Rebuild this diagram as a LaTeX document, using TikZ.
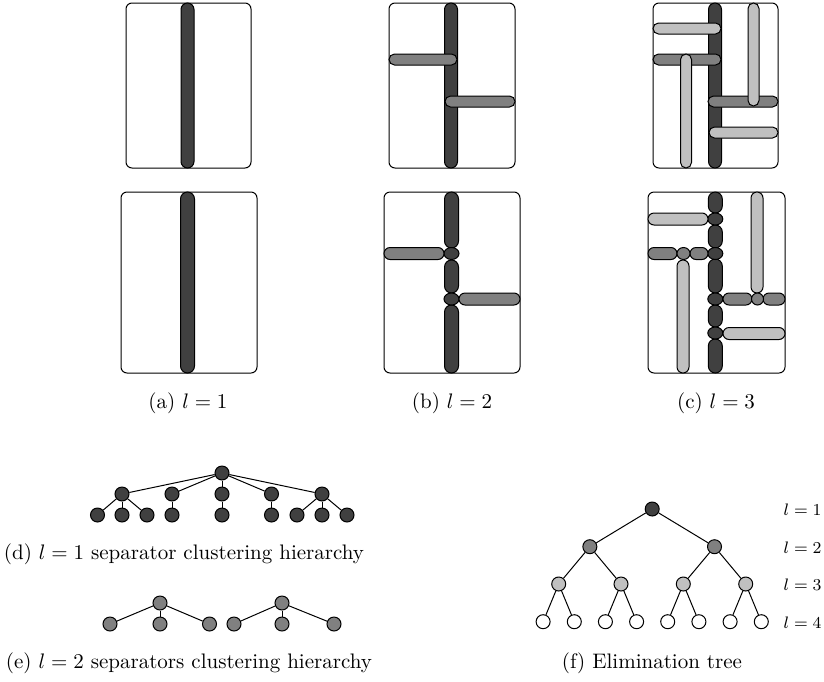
\documentclass[tikz,border=0pt]{standalone}
\definecolor{sepdark}{HTML}{404040}
\definecolor{sepmed}{HTML}{808080}
\definecolor{seplight}{HTML}{C0C0C0}
\newcommand{\VB}[5]{% color, cx, y1, y2, halfwidth(px)
  \pgfmathsetmacro\myrad{#5/2}%
  \draw[sep,fill=#1,rounded corners=\myrad pt] ({#2-#5},#3) rectangle ({#2+#5},#4);}
\newcommand{\HB}[5]{% color, cy, x1, x2, halfheight(px)
  \pgfmathsetmacro\myrad{#5/2}%
  \draw[sep,fill=#1,rounded corners=\myrad pt] (#3,{#2-#5}) rectangle (#4,{#2+#5});}
\begin{document}
\begin{tikzpicture}[x=0.5pt,y=-0.5pt,
  frame/.style={draw=black, line width=0.5pt, rounded corners=3pt},
  sep/.style={draw=black, line width=0.5pt},
  tn/.style={circle, draw=black, line width=0.5pt, minimum size=7pt, inner sep=0pt},
  dk/.style={tn, fill=sepdark},
  md/.style={tn, fill=sepmed},
  lt/.style={tn, fill=seplight},
  wt/.style={tn, fill=white},
  tedge/.style={line width=0.5pt},
  captxt/.style={anchor=base, inner sep=0pt, scale=1.05, transform shape},
  levtxt/.style={anchor=base east, inner sep=0pt, font=\footnotesize, scale=1.04, transform shape}]
\useasboundingbox (0,0) rectangle (824,681);

% ---------- top row ----------
% (a)
\draw[frame] (126,3) rectangle (251,168);
\VB{sepdark}{187.5}{3}{168}{6.5}
% (b)
\draw[frame] (389,3) rectangle (515,168);
\VB{sepdark}{451}{3}{168}{6.5}
\HB{sepmed}{59.5}{389}{457}{5.5}
\HB{sepmed}{101.5}{445}{515}{5.5}
% (c)
\draw[frame] (653,3) rectangle (778,168);
\VB{sepdark}{715}{3}{168}{6.5}
\HB{sepmed}{59.5}{653}{721}{5.5}
\HB{sepmed}{101.5}{708}{778}{5.5}
\HB{seplight}{28.5}{653}{721}{5.5}
\VB{seplight}{686}{54}{168}{5.5}
\VB{seplight}{753.5}{3}{106}{5.5}
\HB{seplight}{132.5}{709}{778}{5.5}

% ---------- bottom row ----------
% (a)
\draw[frame] (121,192) rectangle (257,373);
\VB{sepdark}{187.5}{192}{373}{7}
% (b)
\draw[frame] (384,192) rectangle (520,373);
\VB{sepdark}{451.5}{192}{248}{7}
\VB{sepdark}{451.5}{260}{293}{7}
\VB{sepdark}{451.5}{305}{373}{7}
\draw[sep,fill=sepdark] (451.5,253.5) ellipse [x radius=7.5, y radius=6];
\draw[sep,fill=sepdark] (451.5,299) ellipse [x radius=7.5, y radius=6];
\HB{sepmed}{253.5}{384}{444}{6}
\HB{sepmed}{299}{459}{520}{6}
% (c)
\draw[frame] (648,192) rectangle (785,373);
\VB{sepdark}{715.3}{192}{213}{7}
\VB{sepdark}{715.3}{225}{248}{7}
\VB{sepdark}{715.3}{259}{293}{7}
\VB{sepdark}{715.3}{305}{327}{7}
\VB{sepdark}{715.3}{339}{373}{7}
\draw[sep,fill=sepdark] (715.3,219) ellipse [x radius=7.5, y radius=6];
\draw[sep,fill=sepdark] (715.3,253.5) ellipse [x radius=7.5, y radius=6];
\draw[sep,fill=sepdark] (715.3,299) ellipse [x radius=7.5, y radius=6];
\draw[sep,fill=sepdark] (715.3,333) ellipse [x radius=7.5, y radius=6];
\HB{seplight}{219}{648}{708}{6}
\HB{sepmed}{253.5}{648}{677}{6}
\HB{sepmed}{253.5}{690}{708}{6}
\draw[sep,fill=sepmed] (683.5,253.5) ellipse [x radius=6.5, y radius=6];
\VB{seplight}{683}{260}{373}{6}
\VB{seplight}{757}{192}{293}{6}
\HB{sepmed}{299}{723}{752}{6}
\HB{sepmed}{299}{763}{785}{6}
\draw[sep,fill=sepmed] (757.5,299) ellipse [x radius=6, y radius=6];
\HB{seplight}{333.5}{723}{785}{6}

% captions a-c
\node[captxt] (capa) at (188,408) {(a) $l=1$};
\node[captxt] (capb) at (452,408) {(b) $l=2$};
\node[captxt] (capc) at (716,408) {(c) $l=3$};

% ---------- (d) tree ----------
\node[dk] (d0) at (222,473) {};
\node[dk] (d1) at (122,494) {};
\node[dk] (d2) at (172,494) {};
\node[dk] (d3) at (222,494) {};
\node[dk] (d4) at (271.5,494) {};
\node[dk] (d5) at (322,494) {};
\node[dk] (d11) at (97.5,515) {};
\node[dk] (d12) at (122,515) {};
\node[dk] (d13) at (147,515) {};
\node[dk] (d21) at (172,515) {};
\node[dk] (d31) at (222,515) {};
\node[dk] (d41) at (271.5,515) {};
\node[dk] (d51) at (297,515) {};
\node[dk] (d52) at (322,515) {};
\node[dk] (d53) at (347,515) {};
\foreach \c in {d1,d2,d3,d4,d5} \draw[tedge] (d0) -- (\c);
\foreach \c in {d11,d12,d13} \draw[tedge] (d1) -- (\c);
\draw[tedge] (d2) -- (d21);
\draw[tedge] (d3) -- (d31);
\draw[tedge] (d4) -- (d41);
\foreach \c in {d51,d52,d53} \draw[tedge] (d5) -- (\c);
\node[captxt] (capd) at (184,559) {(d) $l=1$ separator clustering hierarchy};

% ---------- (e) tree ----------
\node[md] (e0) at (160,603) {};
\node[md] (e1) at (110,624) {};
\node[md] (e2) at (160,624) {};
\node[md] (e3) at (209.5,624) {};
\node[md] (f0) at (282,603) {};
\node[md] (f1) at (234,624) {};
\node[md] (f2) at (282,624) {};
\node[md] (f3) at (334,624) {};
\foreach \c in {e1,e2,e3} \draw[tedge] (e0) -- (\c);
\foreach \c in {f1,f2,f3} \draw[tedge] (f0) -- (\c);
\node[captxt] (cape) at (189,668) {(e) $l=2$ separators clustering hierarchy};

% ---------- (f) elimination tree ----------
\node[dk] (r) at (652.2,509) {};
\node[md] (a1) at (589.85,546.7) {};
\node[md] (a2) at (714.5,546.7) {};
\node[lt] (b1) at (558.7,584) {};
\node[lt] (b2) at (621,584) {};
\node[lt] (b3) at (683.3,584) {};
\node[lt] (b4) at (745.7,584) {};
\node[wt] (c1) at (543.1,621.7) {};
\node[wt] (c2) at (574.3,621.7) {};
\node[wt] (c3) at (605.4,621.7) {};
\node[wt] (c4) at (636.6,621.7) {};
\node[wt] (c5) at (667.7,621.7) {};
\node[wt] (c6) at (698.9,621.7) {};
\node[wt] (c7) at (730.1,621.7) {};
\node[wt] (c8) at (761.3,621.7) {};
\draw[tedge] (r) -- (a1); \draw[tedge] (r) -- (a2);
\draw[tedge] (a1) -- (b1); \draw[tedge] (a1) -- (b2);
\draw[tedge] (a2) -- (b3); \draw[tedge] (a2) -- (b4);
\draw[tedge] (b1) -- (c1); \draw[tedge] (b1) -- (c2);
\draw[tedge] (b2) -- (c3); \draw[tedge] (b2) -- (c4);
\draw[tedge] (b3) -- (c5); \draw[tedge] (b3) -- (c6);
\draw[tedge] (b4) -- (c7); \draw[tedge] (b4) -- (c8);
\node[levtxt] (l1) at (822,515) {$l=1$};
\node[levtxt] (l2) at (822,553) {$l=2$};
\node[levtxt] (l3) at (822,590) {$l=3$};
\node[levtxt] (l4) at (822,628) {$l=4$};
\node[captxt] (capf) at (652,668) {(f) Elimination tree};
\end{tikzpicture}
\end{document}
